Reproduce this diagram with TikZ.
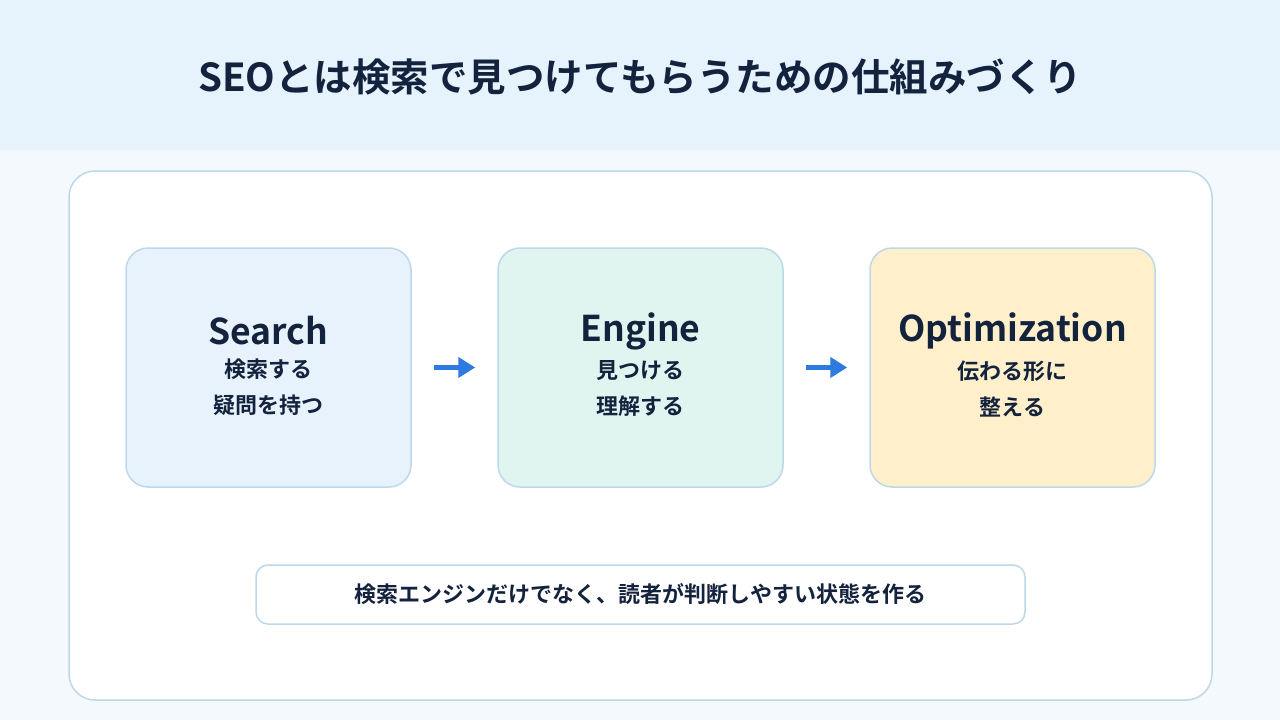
\documentclass[tikz,border=0pt]{standalone}
\usepackage{fontspec}
\setmainfont{Noto Sans CJK JP}[BoldFont={Noto Sans CJK JP Bold}]
\usepackage{xcolor}
\usetikzlibrary{positioning, arrows.meta}

\definecolor{pagebg}{HTML}{F4F9FD}
\definecolor{headbg}{HTML}{E6F3FD}
\definecolor{edge}{HTML}{BCD8EA}
\definecolor{ink}{HTML}{13223D}
\definecolor{flowblue}{HTML}{2F7AE0}
\definecolor{searchbg}{HTML}{E8F2FC}
\definecolor{enginebg}{HTML}{E0F5EF}
\definecolor{optimbg}{HTML}{FFF0CB}

\begin{document}
\begin{tikzpicture}[x=1pt, y=-1pt,
    stage/.style={draw=edge, line width=1.5pt, rounded corners=22pt, minimum width=285pt, minimum height=239pt, inner sep=0pt},
    head/.style={text=ink, font=\fontsize{35.5}{40}\selectfont\bfseries},
    sub/.style={text=ink, align=center, font=\fontsize{22}{36}\selectfont\bfseries},
    flow/.style={draw=flowblue, line width=5pt, -{Triangle[length=17pt, width=20pt]}, shorten <=22pt, shorten >=22pt}]
  \useasboundingbox (0,0) rectangle (1280,720);
  \fill[pagebg] (0,0) rectangle (1280,720);
  \fill[headbg] (0,0) rectangle (1280,150);
  \node[text=ink, font=\fontsize{38.5}{44}\selectfont\bfseries] (title) at (640,77) {SEOとは検索で見つけてもらうための仕組みづくり};

  \node[draw=edge, fill=white, line width=1.5pt, rounded corners=26pt, minimum width=1143pt, minimum height=529pt] (panel) at (640.5,435.5) {};

  \node[stage, fill=searchbg] (search) at (268.5,367.5) {};
  \node[stage, fill=enginebg] (engine) at (640.5,367.5) {};
  \node[stage, fill=optimbg] (optim) at (1012.5,367.5) {};

  \node[head] (searchhead) at (268.5,331) {Search};
  \node[sub] (searchsub) at (268.5,387) {検索する\\疑問を持つ};
  \node[head] (enginehead) at (640.5,331) {Engine};
  \node[sub] (enginesub) at (640.5,389) {見つける\\理解する};
  \node[head] (optimhead) at (1012.5,331) {Optimization};
  \node[sub] (optimsub) at (1012.5,389) {伝わる形に\\整える};

  \draw[flow] (search) -- (engine);
  \draw[flow] (engine) -- (optim);

  \node[draw=edge, fill=white, line width=1.5pt, rounded corners=12pt, minimum width=769pt, minimum height=59pt, text=ink, font=\fontsize{22}{24}\selectfont\bfseries] (note) at (640.5,594.5) {検索エンジンだけでなく、読者が判断しやすい状態を作る};
\end{tikzpicture}
\end{document}
